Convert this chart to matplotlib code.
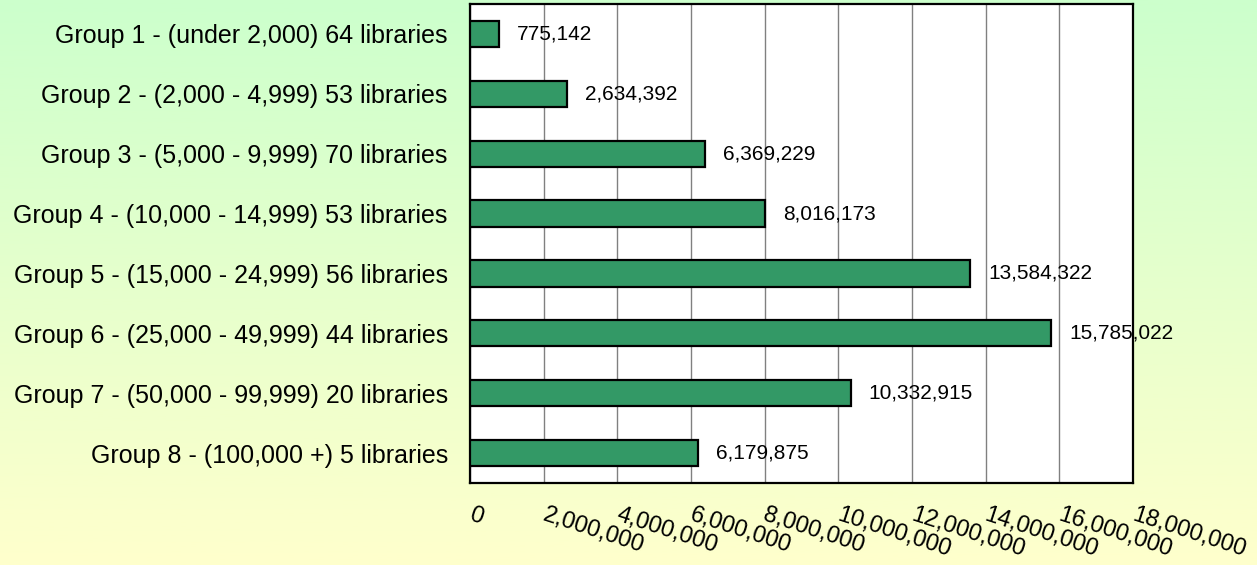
import matplotlib
matplotlib.use('Agg')
import matplotlib.pyplot as plt
import matplotlib.transforms as mtransforms
import numpy as np
from matplotlib.colors import LinearSegmentedColormap
from matplotlib.ticker import FuncFormatter

# datos
groups = [
    "Group 1 - (under 2,000) 64 libraries",
    "Group 2 - (2,000 - 4,999) 53 libraries",
    "Group 3 - (5,000 - 9,999) 70 libraries",
    "Group 4 - (10,000 - 14,999) 53 libraries",
    "Group 5 - (15,000 - 24,999) 56 libraries",
    "Group 6 - (25,000 - 49,999) 44 libraries",
    "Group 7 - (50,000 - 99,999) 20 libraries",
    "Group 8 - (100,000 +) 5 libraries",
]
totals = [775142, 2634392, 6369229, 8016173, 13584322, 15785022, 10332915, 6179875]
x_ticks = [0, 2000000, 4000000, 6000000, 8000000, 10000000, 12000000, 14000000, 16000000, 18000000]

plt.rcParams['font.family'] = ['Liberation Sans', 'DejaVu Sans']

fig = plt.figure(figsize=(12.57, 5.65), dpi=100)

# fondo degradado verde -> amarillo
bg = fig.add_axes([0, 0, 1, 1], zorder=0)
cmap = LinearSegmentedColormap.from_list('bg', ['#CCFFCC', '#FFFFCC'])
bg.imshow(np.linspace(0, 1, 256).reshape(-1, 1), aspect='auto', cmap=cmap, extent=[0, 1, 0, 1])
bg.axis('off')

ax = fig.add_axes([470/1257, 1 - 483/565, (1133-470)/1257, (483-4)/565], zorder=1)
ax.set_facecolor('white')

y = np.arange(len(groups))
ax.barh(y, totals, height=0.44, color='#339966', edgecolor='black', linewidth=1.6, zorder=3)

for yi, v in zip(y, totals):
    ax.annotate(f"{v:,}", (v, yi), xytext=(13, 0), textcoords='offset points',
                ha='left', va='center', fontsize=15, zorder=4)

ax.set_xlim(0, 18000000)
ax.set_ylim(len(groups) - 0.5, -0.5)
ax.set_yticks(y)
ax.set_yticklabels(groups, fontsize=18)
ax.tick_params(axis='y', length=0, pad=16)

ax.set_xticks(x_ticks)
ax.xaxis.set_major_formatter(FuncFormatter(lambda v, p: f"{int(v):,}"))
ax.tick_params(axis='x', length=0, pad=15, labelsize=17)
shift = mtransforms.ScaledTranslation(3/100, 0, fig.dpi_scale_trans)
for lbl in ax.get_xticklabels():
    lbl.set_rotation(-18)
    lbl.set_ha('left')
    lbl.set_va('top')
    lbl.set_rotation_mode('anchor')
    lbl.set_transform(lbl.get_transform() + shift)

ax.grid(axis='x', color='#808080', linewidth=1.0, zorder=0)
ax.set_axisbelow(True)
for s in ax.spines.values():
    s.set_linewidth(1.6)
    s.set_color('black')

fig.savefig('out.png', dpi=100)
